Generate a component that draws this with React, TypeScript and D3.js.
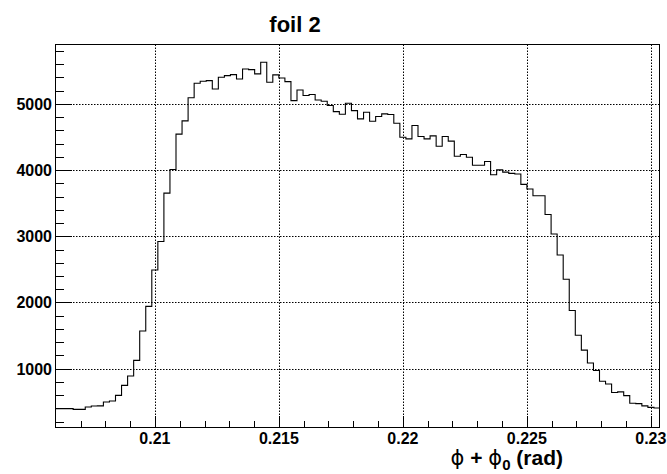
import React from 'react';
import * as d3 from 'd3';

// bin contents (100 equal bins across the x range)
const binsRise = [396, 396, 396, 386, 386, 421, 436, 438, 497, 512, 597, 748, 889, 1126, 1569, 1941, 2490, 2922, 3652, 4010, 4543, 4744, 5092, 5313, 5343];
const binsTop = [5352, 5226, 5402, 5428, 5443, 5377, 5528, 5518, 5453, 5629, 5327, 5438, 5392, 5337, 5050, 5211, 5126, 5141, 5060, 5040, 4975, 4884, 4844, 5010, 4899];
const binsMid = [4774, 4874, 4738, 4809, 4849, 4839, 4708, 4497, 4472, 4673, 4507, 4472, 4517, 4361, 4507, 4437, 4210, 4235, 4195, 4074, 4074, 4130, 3929, 4004, 3969];
const binsFall = [3950, 3940, 3784, 3714, 3613, 3613, 3330, 3035, 2718, 2351, 1878, 1506, 1280, 1086, 973, 810, 768, 640, 650, 593, 478, 472, 438, 416, 405];
const counts = [...binsRise, ...binsTop, ...binsMid, ...binsFall];

const xRange = [0.20597, 0.23037];
const yRange = [119, 5905];
const xMajor = [0.21, 0.215, 0.22, 0.225, 0.23];
const xMajorLabels = ['0.21', '0.215', '0.22', '0.225', '0.23'];
const yMajor = [1000, 2000, 3000, 4000, 5000];
const titleText = 'foil 2';

function App() {
  const parentRef = React.useRef<HTMLDivElement>(null);

  React.useEffect(() => {
    const width = 667, height = 474;
    const margin = {top: 44, right: 7, bottom: 47, left: 55};
    const x0 = margin.left, x1 = width - margin.right;
    const y0 = height - margin.bottom, y1 = margin.top;

    d3.select(parentRef.current).selectAll('*').remove();
    const svg = d3.select(parentRef.current)
      .append('svg')
      .attr('width', width)
      .attr('height', height)
      .style('position', 'absolute')
      .style('left', 0)
      .style('top', 0)
      .style('background', '#fff')
      .style('font-family', '"Liberation Sans", Arial, sans-serif');

    const x = d3.scaleLinear().domain(xRange).range([x0, x1]);
    const y = d3.scaleLinear().domain(yRange).range([y0, y1]);

    // grid
    const grid = svg.append('g')
      .attr('stroke', '#000')
      .attr('stroke-width', 1)
      .attr('stroke-dasharray', '1.5,1.5');
    grid.selectAll('.gx').data(xMajor).enter().append('line')
      .attr('x1', d => Math.round(x(d)) + 0.5).attr('x2', d => Math.round(x(d)) + 0.5)
      .attr('y1', y0).attr('y2', y1);
    grid.selectAll('.gy').data(yMajor).enter().append('line')
      .attr('x1', x0).attr('x2', x1)
      .attr('y1', d => Math.round(y(d)) + 0.5).attr('y2', d => Math.round(y(d)) + 0.5);

    // ticks
    const ticks = svg.append('g').attr('stroke', '#000').attr('stroke-width', 1);
    const xMinor = d3.range(207, 231).map(d => d / 1000);
    ticks.selectAll('.tx').data(xMinor).enter().append('line')
      .attr('x1', d => Math.round(x(d)) + 0.5).attr('x2', d => Math.round(x(d)) + 0.5)
      .attr('y1', y0)
      .attr('y2', d => y0 - (Math.round(d * 1000) % 5 === 0 ? 11 : 6));
    const yMinor = d3.range(200, 5901, 200);
    ticks.selectAll('.ty').data(yMinor).enter().append('line')
      .attr('y1', d => Math.round(y(d)) + 0.5).attr('y2', d => Math.round(y(d)) + 0.5)
      .attr('x1', x0)
      .attr('x2', d => x0 + (d % 1000 === 0 ? 17 : 9));

    // histogram
    const binW = (xRange[1] - xRange[0]) / counts.length;
    const pts: [number, number][] = [];
    counts.forEach((c, i) => {
      pts.push([xRange[0] + i * binW, c]);
      pts.push([xRange[0] + (i + 1) * binW, c]);
    });
    const line = d3.line<[number, number]>()
      .x(d => x(d[0]))
      .y(d => y(d[1]));
    svg.append('path')
      .datum(pts)
      .attr('d', line)
      .attr('fill', 'none')
      .attr('stroke', '#000')
      .attr('stroke-width', 1.1);

    // frame
    svg.append('rect')
      .attr('x', x0 + 0.5).attr('y', y1 + 0.5)
      .attr('width', x1 - x0 - 1).attr('height', y0 - y1)
      .attr('fill', 'none').attr('stroke', '#000').attr('stroke-width', 1);

    // labels
    svg.selectAll('.xl').data(xMajor).enter().append('text')
      .attr('x', d => x(d))
      .attr('y', y0 + 17)
      .attr('text-anchor', 'middle')
      .attr('font-size', 16)
      .attr('font-weight', 'bold')
      .text((d, i) => xMajorLabels[i]);
    svg.selectAll('.yl').data(yMajor).enter().append('text')
      .attr('x', x0 - 3)
      .attr('y', d => y(d) + 6)
      .attr('text-anchor', 'end')
      .attr('font-size', 16)
      .attr('font-weight', 'bold')
      .text(d => String(d));

    svg.append('text')
      .attr('x', 295)
      .attr('y', 32)
      .attr('text-anchor', 'middle')
      .attr('font-size', 22)
      .attr('font-weight', 'bold')
      .text(titleText);

    const xt = svg.append('text')
      .attr('x', 563)
      .attr('y', 465)
      .attr('text-anchor', 'end')
      .attr('font-size', 21)
      .attr('font-weight', 'bold');
    xt.append('tspan').attr('font-family', '"DejaVu Sans"').attr('font-weight', 'normal').text('\u03D5');
    xt.append('tspan').text(' + ');
    xt.append('tspan').attr('font-family', '"DejaVu Sans"').attr('font-weight', 'normal').text('\u03D5');
    xt.append('tspan').attr('font-size', 15).attr('dy', 5).text('0');
    xt.append('tspan').attr('dy', -5).text(' (rad)');
  }, []);

  return (
    <div ref={parentRef}></div>
  );
}

export default App;
